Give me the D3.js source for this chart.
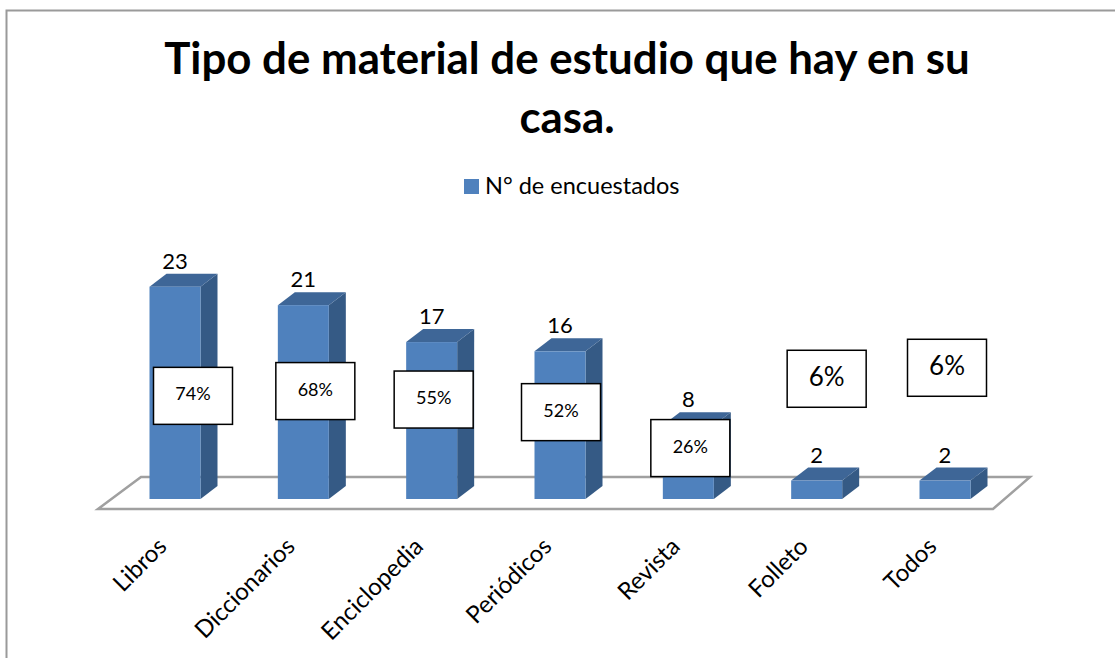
<!DOCTYPE html>
<html>
<head>
<meta charset="utf-8">
<script src="https://cdnjs.cloudflare.com/ajax/libs/d3/7.8.5/d3.min.js"></script>
<style>
  body { margin: 0; background: #fff; }
  svg text { font-family: Lato, "Open Sans", sans-serif; fill: #000; }
</style>
</head>
<body>
<svg id="chart" width="1115" height="658"></svg>
<script>
// data
var categories = ["Libros", "Diccionarios", "Enciclopedia", "Periódicos", "Revista", "Folleto", "Todos"];
var encuestados = [23, 21, 17, 16, 8, 2, 2];
var porcentajes = ["74%", "68%", "55%", "52%", "26%", "6%", "6%"];
var seriesName = "N° de encuestados";

// where the (hand-moved) percentage boxes sit, relative to the bar middle
var boxNudge = [[18, 3], [12, -11], [2, -21], [1, -13], [2, -14], [10, -111], [2, -122]];
var boxFont = [18, 18, 18, 18, 18, 26, 26];

var svg = d3.select("#chart");
var W = 1115, H = 658;

var frontColor = "#4f81bd", sideColor = "#355a85", topColor = "#3e6697";
var depthX = 17, depthY = 13, barW = 51;

var x = d3.scalePoint().domain(categories).range([175, 945]);
var y = d3.scaleLinear().domain([0, 23]).range([499, 286.7]);

// outer frame
svg.append("rect")
    .attr("x", 6.5).attr("y", 10.5)
    .attr("width", W + 20).attr("height", H + 20)
    .attr("fill", "none")
    .attr("stroke", "#9a9a9a")
    .attr("stroke-width", 2);

// title
var title = svg.append("text")
    .attr("text-anchor", "middle")
    .style("font-weight", "bold")
    .style("font-size", "43.8px");
title.append("tspan").attr("x", 567).attr("y", 74).text("Tipo de material de estudio que hay en su");
title.append("tspan").attr("x", 567).attr("y", 133).text("casa.");

// legend
svg.append("rect")
    .attr("x", 464).attr("y", 179)
    .attr("width", 15).attr("height", 15)
    .attr("fill", frontColor);
svg.append("text")
    .attr("x", 485).attr("y", 194)
    .style("font-size", "23.5px")
    .text(seriesName);

// floor of the 3d plot
var y0 = y(0);
svg.append("polygon")
    .attr("points", [[98, y0 + 10], [993, y0 + 10], [1030, y0 - 22], [141, y0 - 22]].join(" "))
    .attr("fill", "none")
    .attr("stroke", "#a0a0a0")
    .attr("stroke-width", 2.5);

var data = categories.map(function (c, i) {
    return { cat: c, val: encuestados[i], pct: porcentajes[i], nudge: boxNudge[i], fs: boxFont[i] };
});

var bars = svg.selectAll(".bar")
    .data(data)
    .enter()
    .append("g")
    .attr("class", "bar");

// side face
bars.append("polygon")
    .attr("fill", sideColor)
    .attr("points", function (d) {
        var x1 = x(d.cat) + barW / 2, yt = y(d.val);
        return [[x1, yt], [x1 + depthX, yt - depthY], [x1 + depthX, y0 - depthY], [x1, y0]].join(" ");
    });

// top face
bars.append("polygon")
    .attr("fill", topColor)
    .attr("points", function (d) {
        var x0 = x(d.cat) - barW / 2, x1 = x(d.cat) + barW / 2, yt = y(d.val);
        return [[x0, yt], [x1, yt], [x1 + depthX, yt - depthY], [x0 + depthX, yt - depthY]].join(" ");
    });

// front face
bars.append("rect")
    .attr("fill", frontColor)
    .attr("x", function (d) { return x(d.cat) - barW / 2; })
    .attr("y", function (d) { return y(d.val); })
    .attr("width", barW)
    .attr("height", function (d) { return y0 - y(d.val); });

// value labels
bars.append("text")
    .attr("text-anchor", "middle")
    .attr("x", function (d) { return x(d.cat); })
    .attr("y", function (d) { return y(d.val) - depthY - 5; })
    .style("font-size", "22px")
    .text(function (d) { return d.val; });

// percentage boxes
var boxW = 79, boxH = 57;
var boxes = bars.append("g")
    .attr("transform", function (d) {
        var cx = x(d.cat) + d.nudge[0];
        var cy = (y(d.val) + y0) / 2 + d.nudge[1];
        return "translate(" + cx + "," + cy + ")";
    });
boxes.append("rect")
    .attr("x", -boxW / 2).attr("y", -boxH / 2)
    .attr("width", boxW).attr("height", boxH)
    .attr("fill", "#fff")
    .attr("stroke", "#000")
    .attr("stroke-width", 1.5);
boxes.append("text")
    .attr("text-anchor", "middle")
    .attr("y", function (d) { return d.fs * 0.36 - 2; })
    .style("font-size", function (d) { return d.fs + "px"; })
    .text(function (d) { return d.pct; });

// category labels, rotated
svg.selectAll(".cat")
    .data(categories)
    .enter()
    .append("text")
    .attr("class", "cat")
    .attr("text-anchor", "end")
    .style("font-size", "24px")
    .attr("transform", function (d) {
        return "translate(" + (x(d) - 7) + "," + 548 + ") rotate(-45)";
    })
    .text(function (d) { return d; });
</script>
</body>
</html>
